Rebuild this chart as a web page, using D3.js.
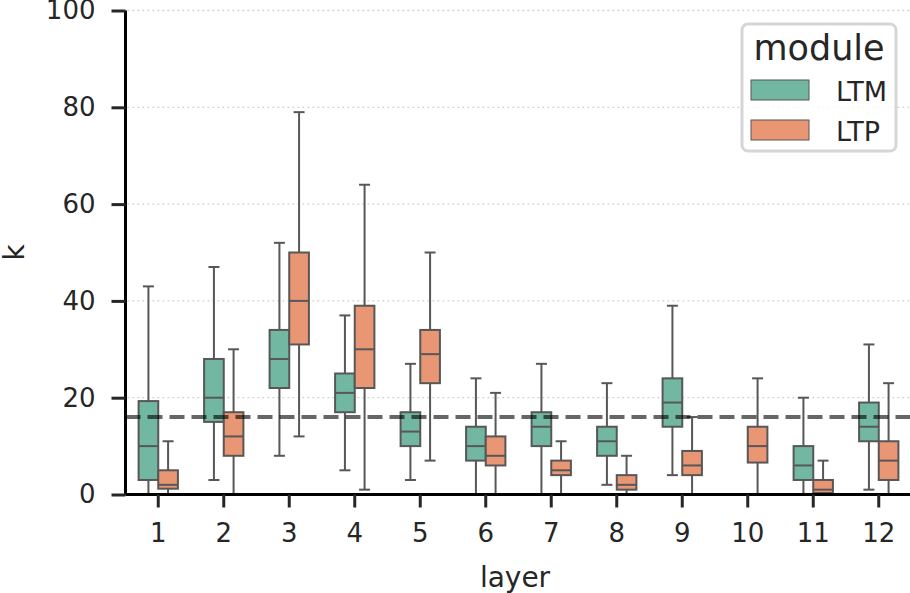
<!DOCTYPE html>
<html>
<head>
<meta charset="utf-8">
<script src="https://cdn.jsdelivr.net/npm/d3@7"></script>
<style>
  body { margin: 0; background: #fff; }
  text { font-family: "DejaVu Sans", sans-serif; fill: #262626; }
</style>
</head>
<body>
<div id="chart"></div>
<script>
// layers on the x axis
var layers = ["1", "2", "3", "4", "5", "6", "7", "8", "9", "10", "11", "12"];
var modules = ["LTM", "LTP"];
var yTicks = [0, 20, 40, 60, 80, 100];
var threshold = 16;

// box stats per layer: lower whisker, q1, median, q3, upper whisker
var ltmLow = [0, 3, 8, 5, 3, 0, 0, 2, 4, 0, 0, 1];
var ltmQ1  = [3, 15, 22, 17, 10, 7, 10, 8, 14, 0, 3, 11];
var ltmMed = [10, 20, 28, 21, 13, 10, 14, 11, 19, 0, 6, 14];
var ltmQ3  = [19.3, 28, 34, 25, 17, 14, 17, 14, 24, 0, 10, 19];
var ltmHigh = [43, 47, 52, 37, 27, 24, 27, 23, 39, 0, 20, 31];

var ltpLow = [0, 0, 12, 1, 7, 0, 0, 0, 0, 0, 0, 0];
var ltpQ1  = [1.2, 8, 31, 22, 23, 6, 4, 1, 4, 6.6, 0.3, 3];
var ltpMed = [2, 12, 40, 30, 29, 8, 5, 2, 6, 10, 1, 7];
var ltpQ3  = [5, 17, 50, 39, 34, 12, 7, 4, 9, 14, 3, 11];
var ltpHigh = [11, 30, 79, 64, 50, 21, 11, 8, 16, 24, 7, 23];

var colors = { LTM: "#72b7a1", LTP: "#e99675" };
var lineColor = "#575757";

var W = 910, H = 593;
var margin = { left: 125.5, top: 10.5, right: 0, bottom: 98.5 };

var svg = d3.select("#chart").append("svg")
    .attr("width", W).attr("height", H);

var x = d3.scaleBand().domain(layers)
    .range([margin.left, margin.left + 65.5 * layers.length]);
var inner = d3.scaleBand().domain(modules)
    .range([x.bandwidth() * 0.2, x.bandwidth() * 0.8]);
var y = d3.scaleLinear().domain([0, 100]).range([H - margin.bottom, margin.top]);

// dotted grid
svg.append("g").selectAll("line")
    .data(yTicks.slice(1))
    .enter().append("line")
    .attr("x1", margin.left + 2).attr("x2", W)
    .attr("y1", function(d) { return y(d); })
    .attr("y2", function(d) { return y(d); })
    .attr("stroke", "#cccccc")
    .attr("stroke-width", 1.3)
    .attr("stroke-dasharray", "1.7,3.3");

var boxData = [];
layers.forEach(function(l, i) {
    boxData.push({ layer: l, module: "LTM", lo: ltmLow[i], q1: ltmQ1[i], med: ltmMed[i], q3: ltmQ3[i], hi: ltmHigh[i] });
    boxData.push({ layer: l, module: "LTP", lo: ltpLow[i], q1: ltpQ1[i], med: ltpMed[i], q3: ltpQ3[i], hi: ltpHigh[i] });
});

var boxes = svg.append("g").selectAll("g")
    .data(boxData)
    .enter().append("g")
    .attr("transform", function(d) { return "translate(" + (x(d.layer) + inner(d.module)) + ",0)"; });

var bw = inner.bandwidth();
var cx = bw / 2, cap = 11;

// whiskers
boxes.append("line")
    .attr("x1", cx).attr("x2", cx)
    .attr("y1", function(d) { return y(d.q3); })
    .attr("y2", function(d) { return y(d.hi); })
    .attr("stroke", lineColor).attr("stroke-width", 2);
boxes.append("line")
    .attr("x1", cx).attr("x2", cx)
    .attr("y1", function(d) { return y(d.q1); })
    .attr("y2", function(d) { return y(d.lo); })
    .attr("stroke", lineColor).attr("stroke-width", 2);
boxes.append("line")
    .attr("x1", cx - cap / 2).attr("x2", cx + cap / 2)
    .attr("y1", function(d) { return y(d.hi); })
    .attr("y2", function(d) { return y(d.hi); })
    .attr("stroke", lineColor).attr("stroke-width", 2);
boxes.append("line")
    .attr("x1", cx - cap / 2).attr("x2", cx + cap / 2)
    .attr("y1", function(d) { return y(d.lo); })
    .attr("y2", function(d) { return y(d.lo); })
    .attr("stroke", lineColor).attr("stroke-width", 2);

// boxes
boxes.append("rect")
    .attr("x", 0).attr("width", bw)
    .attr("y", function(d) { return y(d.q3); })
    .attr("height", function(d) { return y(d.q1) - y(d.q3); })
    .attr("fill", function(d) { return colors[d.module]; })
    .attr("stroke", lineColor).attr("stroke-width", 2);
boxes.append("line")
    .attr("x1", 0).attr("x2", bw)
    .attr("y1", function(d) { return y(d.med); })
    .attr("y2", function(d) { return y(d.med); })
    .attr("stroke", lineColor).attr("stroke-width", 2);

// threshold line
svg.append("line")
    .attr("x1", margin.left).attr("x2", W)
    .attr("y1", y(threshold)).attr("y2", y(threshold))
    .attr("stroke", "#000").attr("stroke-opacity", 0.6)
    .attr("stroke-width", 4)
    .attr("stroke-dasharray", "15,7");

// axes
var yAxis = svg.append("g")
    .attr("transform", "translate(" + margin.left + ",0)")
    .call(d3.axisLeft(y).tickValues(yTicks).tickSize(14).tickPadding(16));
var xAxis = svg.append("g")
    .attr("transform", "translate(0," + y(0) + ")")
    .call(d3.axisBottom(x).tickSize(13).tickPadding(16));
[xAxis, yAxis].forEach(function(a) {
    a.select(".domain").attr("stroke", "#000").attr("stroke-width", 3);
    a.selectAll(".tick line").attr("stroke", "#262626").attr("stroke-width", 3);
    a.selectAll(".tick text").attr("font-size", 26).attr("fill", "#262626")
        .style("font-family", "DejaVu Sans");
});
yAxis.select(".domain").attr("d", "M0," + y(0) + "V" + y(100));
xAxis.select(".domain").attr("d", "M" + margin.left + ",0H" + W);

// axis labels
svg.append("text")
    .attr("x", 515).attr("y", 587)
    .attr("text-anchor", "middle").attr("font-size", 28)
    .text("layer");
svg.append("text")
    .attr("transform", "translate(23.5," + y(50) + ") rotate(-90)")
    .attr("text-anchor", "middle").attr("font-size", 28)
    .text("k");

// legend
var lg = svg.append("g").attr("transform", "translate(742,24)");
lg.append("rect")
    .attr("width", 154).attr("height", 127).attr("rx", 6)
    .attr("fill", "#fff").attr("fill-opacity", 0.8)
    .attr("stroke", "#d6d6d6").attr("stroke-width", 3);
lg.append("text")
    .attr("x", 77).attr("y", 36)
    .attr("text-anchor", "middle").attr("font-size", 35)
    .text("module");
var items = lg.selectAll(".item")
    .data(modules)
    .enter().append("g")
    .attr("transform", function(d, i) { return "translate(9," + (56 + i * 40) + ")"; });
items.append("rect")
    .attr("width", 58).attr("height", 20)
    .attr("fill", function(d) { return colors[d]; })
    .attr("stroke", lineColor).attr("stroke-width", 1);
items.append("text")
    .attr("x", 85).attr("y", 20.5)
    .attr("font-size", 27)
    .text(function(d) { return d; });
</script>
</body>
</html>
